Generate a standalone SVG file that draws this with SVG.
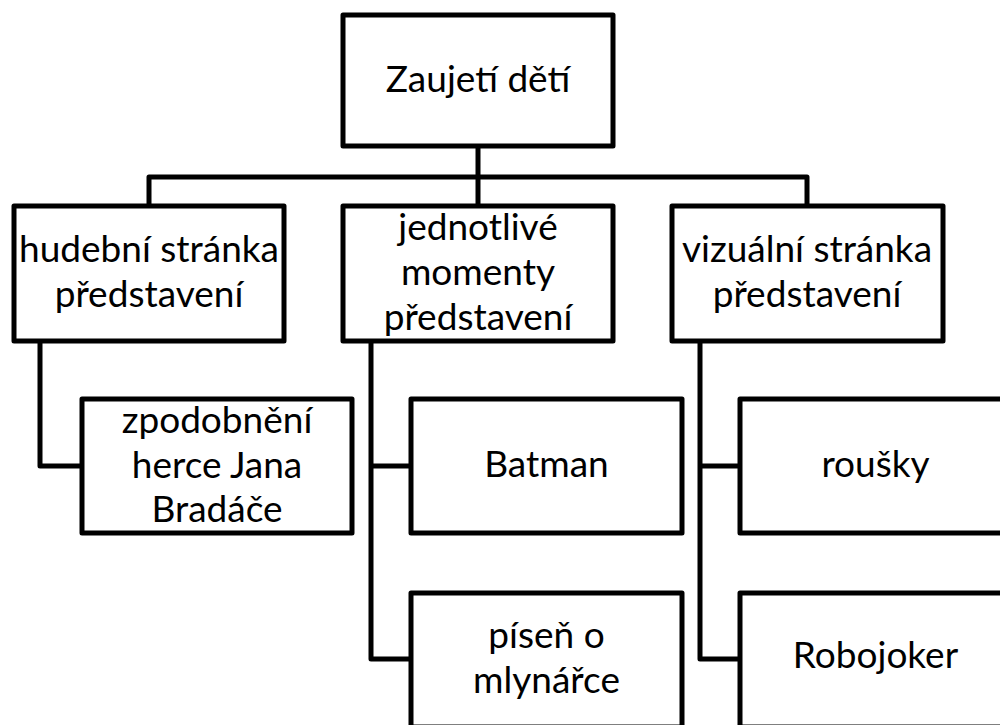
<svg xmlns="http://www.w3.org/2000/svg" width="1000" height="725" viewBox="0 0 1000 725">
<style>
.box{fill:#fff;stroke:#000;stroke-width:5;stroke-linejoin:round}
.con{fill:none;stroke:#000;stroke-width:5;stroke-linejoin:round}
text{font-family:Lato,"Open Sans",sans-serif;font-size:37px;fill:#000;text-anchor:middle}
</style>
<rect width="1000" height="725" fill="#fff"/>
<g id="connectors">
<path class="con" d="M478,146 V206"/>
<path class="con" d="M149,206 V177 H807 V206"/>
<path class="con" d="M40,341 V466 H82"/>
<path class="con" d="M371,341 V659 H411 M371,466 H411"/>
<path class="con" d="M700,341 V659 H740 M700,466 H740"/>
</g>
<g id="root"><rect class="box" x="343" y="15" width="270" height="131"/><text x="478" y="92">Zaujetí dětí</text></g>
<g id="hudebni"><rect class="box" x="14" y="206" width="270" height="135"/><text x="149" y="262">hudební stránka</text><text x="149" y="307">představení</text></g>
<g id="momenty"><rect class="box" x="343" y="206" width="270" height="135"/><text x="478" y="240">jednotlivé</text><text x="478" y="285">momenty</text><text x="478" y="330">představení</text></g>
<g id="vizualni"><rect class="box" x="672" y="206" width="271" height="135"/><text x="807" y="262">vizuální stránka</text><text x="807" y="307">představení</text></g>
<g id="zpodobneni"><rect class="box" x="82" y="399" width="270" height="134"/><text x="217" y="433">zpodobnění</text><text x="217" y="478">herce Jana</text><text x="217" y="522">Bradáče</text></g>
<g id="batman"><rect class="box" x="411" y="399" width="271" height="134"/><text x="546.5" y="477">Batman</text></g>
<g id="pisen"><rect class="box" x="411" y="593" width="271" height="134"/><text x="546.5" y="648">píseň o</text><text x="546.5" y="693">mlynářce</text></g>
<g id="rousky"><rect class="box" x="740" y="399" width="271" height="134"/><text x="875.5" y="477">roušky</text></g>
<g id="robojoker"><rect class="box" x="740" y="593" width="271" height="134"/><text x="875.5" y="668">Robojoker</text></g>
</svg>
